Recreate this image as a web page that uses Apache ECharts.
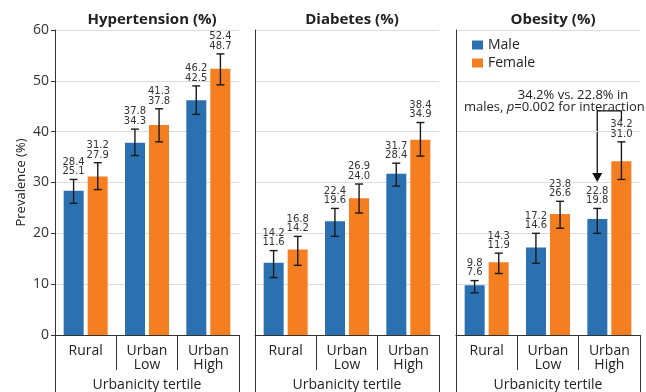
<!DOCTYPE html>
<html>
<head>
<meta charset="utf-8">
<script src="https://cdn.jsdelivr.net/npm/echarts@6/dist/echarts.min.js"></script>
<style>
  html, body { margin: 0; padding: 0; background: #fff; }
  #chart { width: 646px; height: 392px; }
</style>
</head>
<body>
<div id="chart"></div>
<script>
// Urbanicity tertiles shared by all three outcome panels
const categories = ['Rural', 'Urban\nLow', 'Urban\nHigh'];
const panelTitles = ['Hypertension (%)', 'Diabetes (%)', 'Obesity (%)'];
const yTicks = [0, 10, 20, 30, 40, 50, 60];

// Prevalence (%) by sex — bar heights (first label line)
const hypertensionMale = [28.4, 37.8, 46.2];
const hypertensionFemale = [31.2, 41.3, 52.4];
const diabetesMale = [14.2, 22.4, 31.7];
const diabetesFemale = [16.8, 26.9, 38.4];
const obesityMale = [9.8, 17.2, 22.8];
const obesityFemale = [14.3, 23.8, 34.2];

// Second label line printed under each value
const hypertensionMaleSub = [25.1, 34.3, 42.5];
const hypertensionFemaleSub = [27.9, 37.8, 48.7];
const diabetesMaleSub = [11.6, 19.6, 28.4];
const diabetesFemaleSub = [14.2, 24.0, 34.9];
const obesityMaleSub = [7.6, 14.6, 19.8];
const obesityFemaleSub = [11.9, 26.6, 31.0];

// 95% CI limits [lower, upper]
const hypertensionMaleCI = [[25.9, 30.6], [35.3, 40.5], [43.4, 49.0]];
const hypertensionFemaleCI = [[28.6, 33.9], [38.0, 44.5], [49.2, 55.3]];
const diabetesMaleCI = [[11.3, 16.6], [19.4, 24.9], [29.3, 33.8]];
const diabetesFemaleCI = [[13.7, 19.4], [24.0, 29.7], [35.2, 41.8]];
const obesityMaleCI = [[8.3, 10.7], [14.1, 20.0], [20.0, 24.9]];
const obesityFemaleCI = [[12.1, 16.1], [21.0, 26.3], [30.6, 38.0]];

const panels = [
  { male: hypertensionMale, female: hypertensionFemale, maleSub: hypertensionMaleSub, femaleSub: hypertensionFemaleSub, maleCI: hypertensionMaleCI, femaleCI: hypertensionFemaleCI },
  { male: diabetesMale, female: diabetesFemale, maleSub: diabetesMaleSub, femaleSub: diabetesFemaleSub, maleCI: diabetesMaleCI, femaleCI: diabetesFemaleCI },
  { male: obesityMale, female: obesityFemale, maleSub: obesityMaleSub, femaleSub: obesityFemaleSub, maleCI: obesityMaleCI, femaleCI: obesityFemaleCI }
];

const BLUE = '#2b71b1';
const ORANGE = '#f57f20';
const INK = '#333';
const FONT = '"Open Sans", "Liberation Sans", sans-serif';

const W = 646, H = 392;
const gridLefts = [55, 255, 456];
const gridWidth = 184;
const gridTop = 30;
const gridBottom = 57;   // x-axis line sits at H - gridBottom
const barOffset = 0.197; // bar centre offset from category centre, as share of band

const grids = gridLefts.map(l => ({
  left: l, top: gridTop, width: gridWidth, bottom: gridBottom,
  containLabel: false, outerBoundsMode: 'none'
}));

const xAxes = gridLefts.map((l, i) => ({
  type: 'category', gridIndex: i, data: categories,
  axisLine: { show: true, lineStyle: { color: INK, width: 1 } },
  axisTick: { show: true, length: 35, alignWithLabel: false, lineStyle: { color: INK, width: 1 } },
  axisLabel: { color: '#222', fontSize: 14, fontFamily: FONT, lineHeight: 14, margin: 9 },
  name: 'Urbanicity tertile', nameLocation: 'middle', nameGap: 43,
  nameTextStyle: { color: '#222', fontSize: 14, fontFamily: FONT }
}));

const yAxes = gridLefts.map((l, i) => ({
  type: 'value', gridIndex: i, min: yTicks[0], max: yTicks[yTicks.length - 1], interval: 10,
  axisLine: { show: true, lineStyle: { color: INK, width: 1 } },
  axisTick: { show: i === 0, length: 4, lineStyle: { color: INK } },
  axisLabel: { show: i === 0, color: INK, fontSize: 14, fontFamily: FONT, margin: 6 },
  splitLine: { show: true, lineStyle: { color: '#dcdcdc', width: 1 } },
  name: i === 0 ? 'Prevalence (%)' : '', nameLocation: 'middle', nameGap: 27,
  nameTextStyle: { color: '#222', fontSize: 13, fontFamily: FONT }
}));

const series = [];
panels.forEach((p, i) => {
  [['Male', p.male, BLUE], ['Female', p.female, ORANGE]].forEach(([name, vals, color]) => {
    series.push({
      type: 'bar', name, xAxisIndex: i, yAxisIndex: i, data: vals,
      barWidth: 20, barGap: '20%', itemStyle: { color }, z: 2
    });
  });
  // error bars and two-line value labels
  [[-1, p.male, p.maleSub, p.maleCI], [1, p.female, p.femaleSub, p.femaleCI]].forEach(([side, vals, subs, ci]) => {
    series.push({
      type: 'custom', xAxisIndex: i, yAxisIndex: i, z: 5, silent: true,
      data: vals.map((v, k) => [k, ci[k][0], ci[k][1], v, subs[k]]),
      renderItem: (params, api) => {
        const band = api.size([1, 0])[0];
        const cx = api.coord([api.value(0), 0])[0] + side * band * barOffset;
        const yLo = api.coord([0, api.value(1)])[1];
        const yHi = api.coord([0, api.value(2)])[1];
        const cap = 4;
        const ls = { stroke: '#1a1a1a', lineWidth: 1.4 };
        return {
          type: 'group', children: [
            { type: 'line', shape: { x1: cx, y1: yLo, x2: cx, y2: yHi }, style: ls },
            { type: 'line', shape: { x1: cx - cap, y1: yHi, x2: cx + cap, y2: yHi }, style: ls },
            { type: 'line', shape: { x1: cx - cap, y1: yLo, x2: cx + cap, y2: yLo }, style: ls },
            { type: 'text', x: cx, y: yHi - 3, style: {
                text: api.value(3).toFixed(1) + '\n' + api.value(4).toFixed(1),
                fill: '#333', font: '10px "DejaVu Sans", sans-serif', lineHeight: 9.5,
                align: 'center', verticalAlign: 'bottom' } }
          ]
        };
      }
    });
  });
});

const titles = gridLefts.map((l, i) => ({
  text: panelTitles[i], left: l + gridWidth / 2, top: 7, textAlign: 'center',
  textStyle: { fontSize: 15, fontWeight: 'bold', color: '#222', fontFamily: FONT }
}));

// box edges under each panel that frame the category labels
const graphic = [];
gridLefts.forEach(l => {
  [l, l + gridWidth].forEach(x => {
    graphic.push({ type: 'line', silent: true, shape: { x1: x + 0.5, y1: H - gridBottom, x2: x + 0.5, y2: H },
      style: { stroke: INK, lineWidth: 1 } });
  });
});

const chart = echarts.init(document.getElementById('chart'), null, { renderer: 'canvas' });
chart.setOption({
  animation: false,
  backgroundColor: '#fff',
  title: titles,
  grid: grids,
  xAxis: xAxes,
  yAxis: yAxes,
  legend: {
    data: ['Male', 'Female'], orient: 'vertical', left: 467, top: 33,
    itemWidth: 11, itemHeight: 9, itemGap: 4, icon: 'rect',
    textStyle: { fontSize: 14, color: '#222', fontFamily: FONT }
  },
  series,
  graphic
});

// interaction callout in the obesity panel, anchored to the Urban High bars
const hiIdx = 2;
const toPx = v => chart.convertToPixel({ xAxisIndex: 2, yAxisIndex: 2 }, v);
const band = toPx([1, 0])[0] - toPx([0, 0])[0];
const maleX = toPx([hiIdx, 0])[0] - band * barOffset;
const femaleX = toPx([hiIdx, 0])[0] + band * barOffset;
const yBracket = toPx([hiIdx, 44.1])[1];
const yTip = toPx([hiIdx, 30.1])[1];
const yRight = toPx([hiIdx, 42.1])[1];
graphic.push(
  { type: 'polyline', silent: true, shape: { points: [[femaleX, yRight], [femaleX, yBracket], [maleX, yBracket], [maleX, yTip - 8]] },
    style: { stroke: '#111', lineWidth: 1.3, fill: null } },
  { type: 'polygon', silent: true, shape: { points: [[maleX - 5, yTip - 9], [maleX + 5, yTip - 9], [maleX, yTip]] },
    style: { fill: '#111' } },
  { type: 'text', silent: true, x: 573, y: 95, style: { text: '34.2% vs. 22.8% in', font: '13px "Open Sans", sans-serif', fill: '#222', align: 'center', verticalAlign: 'middle' } },
  { type: 'text', silent: true, x: 464, y: 107, style: {
      text: '{n|males, }{i|p}{n|=0.002 for interaction}',
      rich: { n: { font: '13px "Open Sans", sans-serif', fill: '#222' }, i: { font: 'italic 13px "Open Sans", sans-serif', fill: '#222' } },
      align: 'left', verticalAlign: 'middle' } }
);
chart.setOption({ graphic });
</script>
</body>
</html>
